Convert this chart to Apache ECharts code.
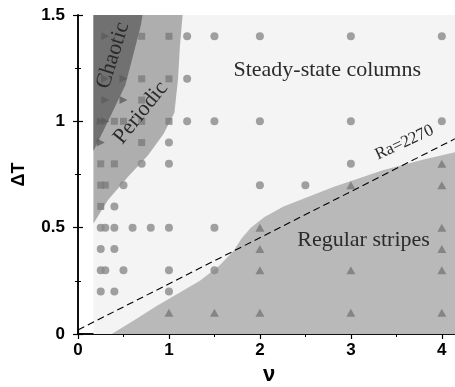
<!DOCTYPE html>
<html>
<head>
<meta charset="utf-8">
<script src="https://cdn.jsdelivr.net/npm/echarts@6/dist/echarts.min.js"></script>
<style>html,body{margin:0;padding:0;background:#fff;}#c{width:455px;height:387px;}</style>
</head>
<body>
<div id="c"></div>
<script>
// ---- data (ν, ΔT) ----
const xTicks = [0, 1, 2, 3, 4];
const yTicks = [0, 0.5, 1, 1.5];

// region boundaries
const steadyRegion = [[0.17, 0], [4.2, 0], [4.2, 1.5], [0.17, 1.5]];
const stripesRegion = [[0.37, 0], [0.6, 0.06], [0.86, 0.13], [1.1, 0.19], [1.34, 0.25], [1.55, 0.32], [1.71, 0.39], [1.8, 0.45], [1.9, 0.5], [2.05, 0.55], [2.26, 0.6], [2.8, 0.69], [3.35, 0.77], [3.8, 0.82], [4.2, 0.86], [4.2, 0]];
const periodicRegion = [[0.17, 0.52], [0.33, 0.63], [0.55, 0.74], [0.77, 0.84], [0.94, 0.94], [1.06, 1.04], [1.1, 1.2], [1.12, 1.35], [1.15, 1.5], [0.17, 1.5]];
const chaoticRegion = [[0.17, 0.86], [0.33, 1.0], [0.52, 1.17], [0.6, 1.3], [0.69, 1.45], [0.71, 1.5], [0.17, 1.5]];

// Ra = 2270 line
const raLine = [[0, 0.019], [4.2, 0.93]];

// observations
const chaoticPts = [[0.3, 1.4], [0.3, 1.2], [0.5, 1.2], [0.3, 1.1], [0.5, 1.1], [0.25, 1.0], [0.3, 1.0], [0.25, 0.9]];
const periodicPts = [[0.7, 1.4], [1.0, 1.4], [0.7, 1.2], [1.0, 1.2], [0.7, 1.1], [0.4, 1.0], [0.5, 1.0], [0.7, 1.0], [1.0, 1.0], [0.7, 0.9], [0.25, 0.8], [0.4, 0.8], [0.25, 0.7], [0.3, 0.7], [0.25, 0.6]];
const steadyPts = [[1.2, 1.4], [1.5, 1.4], [2, 1.4], [3, 1.4], [4, 1.4], [1.2, 1.2], [1.2, 1.0], [1.5, 1.0], [2, 1.0], [3, 1.0], [4, 1.0], [1.0, 0.9], [0.7, 0.8], [1.0, 0.8], [3, 0.8], [0.5, 0.7], [2, 0.7], [2.5, 0.7], [0.4, 0.6], [0.25, 0.5], [0.3, 0.5], [0.4, 0.5], [0.6, 0.5], [0.8, 0.5], [1.0, 0.5], [1.5, 0.5], [0.25, 0.4], [0.4, 0.4], [0.25, 0.3], [0.3, 0.3], [0.5, 0.3], [1.0, 0.3], [1.5, 0.3], [0.25, 0.2], [0.4, 0.2], [1.0, 0.2]];
const stripesPts = [[4, 0.8], [3, 0.7], [4, 0.7], [2, 0.5], [4, 0.5], [2, 0.4], [4, 0.4], [2, 0.3], [3, 0.3], [4, 0.3], [1.0, 0.1], [1.5, 0.1], [2, 0.1], [3, 0.1], [4, 0.1]];

// annotations: [ν, ΔT, text]
const annotations = [
  [2.74, 1.24, 'Steady-state columns'],
  [3.14, 0.44, 'Regular stripes'],
  [0.385, 1.31, 'Chaotic'],
  [0.69, 1.04, 'Periodic'],
  [3.59, 0.90, 'Ra=2270']
];
const annotationAngles = [0, 0, 73, 51, 25];
const annotationSizes = [22, 22, 22, 22, 17];

// ---- chart ----
function polySeries(points, color, z) {
  return {
    type: 'custom', z: z, silent: true,
    data: [0],
    renderItem: function (params, api) {
      return {
        type: 'polygon',
        shape: { points: points.map(p => api.coord(p)) },
        style: { fill: color }
      };
    }
  };
}

const chart = echarts.init(document.getElementById('c'), null, { renderer: 'canvas' });
const axisFont = { fontFamily: 'Liberation Sans', fontSize: 17, fontWeight: 'bold', color: '#000' };
const commonX = {
  type: 'value', min: 0, max: 4.2, interval: 1,
  axisLine: { show: true, lineStyle: { color: '#000', width: 1.5 } },
  axisTick: { show: true, inside: true, length: 5, lineStyle: { color: '#000', width: 1.2 } },
  minorTick: { show: true, splitNumber: 2, length: 3, lineStyle: { color: '#000', width: 1 } },
  splitLine: { show: false }
};
const commonY = {
  type: 'value', min: 0, max: 1.5, interval: 0.5,
  axisLine: { show: true, lineStyle: { color: '#000', width: 1.5 } },
  axisTick: { show: true, inside: true, length: 5, lineStyle: { color: '#000', width: 1.2 } },
  minorTick: { show: true, splitNumber: 2, length: 3, lineStyle: { color: '#000', width: 1 } },
  splitLine: { show: false }
};

chart.setOption({
  animation: false,
  backgroundColor: '#fff',
  grid: { left: 78, top: 15, width: 382, height: 319, containLabel: false, outerBoundsMode: 'none' },
  xAxis: [
    Object.assign({}, commonX, {
      position: 'bottom',
      name: 'ν', nameLocation: 'middle', nameGap: 26,
      nameTextStyle: { fontFamily: 'Liberation Sans', fontSize: 22, fontWeight: 'bold', color: '#000' },
      axisLabel: Object.assign({ margin: 8, formatter: v => (xTicks.indexOf(v) >= 0 ? String(v) : '') }, axisFont)
    }),
    Object.assign({}, commonX, { position: 'top', axisLabel: { show: false } })
  ],
  yAxis: [
    Object.assign({}, commonY, {
      position: 'left',
      name: 'ΔT', nameLocation: 'middle', nameGap: 50, nameRotate: 90,
      nameTextStyle: { fontFamily: 'Liberation Sans', fontSize: 18, fontWeight: 'bold', color: '#000' },
      axisLabel: Object.assign({ margin: 13, formatter: v => (yTicks.indexOf(v) >= 0 ? String(v) : '') }, axisFont)
    }),
    Object.assign({}, commonY, { position: 'right', axisLabel: { show: false } })
  ],
  series: [
    polySeries(steadyRegion, '#f4f4f4', 1),
    polySeries(stripesRegion, '#b9b9b9', 2),
    polySeries(periodicRegion, '#aeaeae', 3),
    polySeries(chaoticRegion, '#717171', 4),
    {
      type: 'line', z: 5, data: raLine, symbol: 'none', silent: true,
      lineStyle: { color: '#000', width: 1.1, type: [7, 4] }
    },
    { type: 'scatter', z: 6, data: steadyPts, symbol: 'circle', symbolSize: 8, itemStyle: { color: '#8a8a8a' } },
    { type: 'scatter', z: 6, data: periodicPts, symbol: 'rect', symbolSize: 7, itemStyle: { color: '#7c7c7c' } },
    { type: 'scatter', z: 6, data: chaoticPts, symbol: 'triangle', symbolRotate: -90, symbolSize: [8, 8], itemStyle: { color: '#5c5c5c' } },
    { type: 'scatter', z: 6, data: stripesPts, symbol: 'triangle', symbolSize: [9, 8], itemStyle: { color: '#787878' } },
    {
      type: 'custom', z: 7, silent: true,
      data: annotations.map((a, i) => [a[0], a[1], i]),
      renderItem: function (params, api) {
        const i = api.value(2);
        const p = api.coord([api.value(0), api.value(1)]);
        return {
          type: 'text', x: p[0], y: p[1],
          rotation: annotationAngles[i] * Math.PI / 180,
          style: {
            text: annotations[i][2], fontFamily: 'Liberation Serif',
            fontSize: annotationSizes[i], fill: '#2b2b2b',
            align: 'center', verticalAlign: 'middle'
          }
        };
      }
    }
  ]
});
</script>
</body>
</html>
